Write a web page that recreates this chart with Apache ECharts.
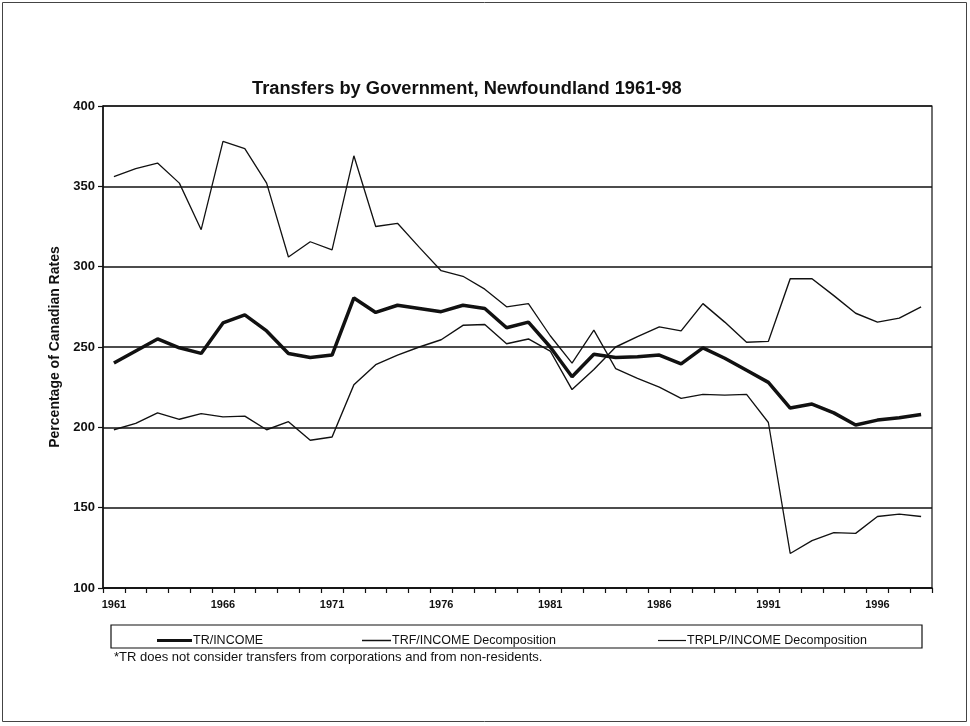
<!DOCTYPE html>
<html>
<head>
<meta charset="utf-8">
<script src="https://cdn.jsdelivr.net/npm/echarts@6/dist/echarts.min.js"></script>
<style>
html,body{margin:0;padding:0;background:#fff;}
#chart{width:970px;height:726px;}
</style>
</head>
<body>
<div id="chart"></div>
<script>
var years = [];
for (var y = 1961; y <= 1998; y++) years.push(String(y));

var trIncome = [240, 247.5, 255, 249.5, 246, 265, 270, 260, 246, 243.5, 245, 280.5, 271.5, 276, 274, 272, 276, 274, 262, 265.5, 250, 231.5, 245.5, 243.5, 244, 245, 239.5, 249.5, 243, 235.5, 228, 212, 214.5, 209, 201.5, 204.5, 206, 208];
var trfIncome = [198.5, 202.5, 209, 205, 208.5, 206.5, 207, 198.5, 203.5, 192, 194, 226.5, 239, 245, 250, 254.5, 263.5, 264, 252, 255, 247.5, 223.5, 236, 250, 256.5, 262.5, 260, 277, 265.5, 253, 253.5, 292.5, 292.5, 282, 271, 265.5, 268, 275];
var trplpIncome = [356, 361, 364.5, 352, 323, 378, 373.5, 352, 306, 315.5, 310.5, 369, 325, 327, 312, 297.5, 294, 286, 275, 277, 257, 240, 260.5, 236.5, 230.5, 225, 218, 220.5, 220, 220.5, 203, 121.5, 129.5, 134.5, 134, 144.5, 146, 144.5];

var seriesNames = ['TR/INCOME', 'TRF/INCOME Decomposition', 'TRPLP/INCOME Decomposition'];
var titleText = 'Transfers by Government, Newfoundland 1961-98';
var yAxisName = 'Percentage of Canadian Rates';
var footnote = '*TR does not consider transfers from corporations and from non-residents.';

var FONT = 'Liberation Sans, Arial, sans-serif';
var chart = echarts.init(document.getElementById('chart'), null, {renderer: 'canvas'});

function legendAt(left, name, w, h) {
  return {
    left: left, top: 629,
    itemWidth: w, itemHeight: h, itemGap: 4,
    icon: 'rect',
    data: [name],
    textStyle: {fontFamily: FONT, fontSize: 12.5, color: '#111', padding: [0, 0, 0, -4]},
    selectedMode: false
  };
}

chart.setOption({
  animation: false,
  backgroundColor: '#fff',
  title: {
    text: titleText,
    left: 247,
    top: 75,
    textStyle: {fontFamily: FONT, fontSize: 18.3, fontWeight: 'bold', color: '#111'}
  },
  grid: {
    left: 103, right: 38, top: 106, bottom: 138,
    show: true, borderColor: '#111', borderWidth: 1.2, backgroundColor: 'transparent'
  },
  legend: [
    legendAt(152, seriesNames[0], 35, 3),
    legendAt(357, seriesNames[1], 29, 1.5),
    legendAt(653, seriesNames[2], 28, 1.2)
  ],
  xAxis: {
    type: 'category',
    data: years,
    boundaryGap: true,
    axisLine: {lineStyle: {color: '#111', width: 1.5}},
    axisTick: {show: true, interval: 0, length: 5, lineStyle: {color: '#111', width: 1.2}},
    axisLabel: {interval: 4, margin: 11, fontFamily: FONT, fontSize: 11, fontWeight: 'bold', color: '#111'},
    splitLine: {show: false}
  },
  yAxis: {
    type: 'value',
    min: 100, max: 400, interval: 50,
    name: yAxisName,
    nameLocation: 'middle',
    nameGap: 39,
    nameRotate: 90,
    nameTextStyle: {fontFamily: FONT, fontSize: 14, fontWeight: 'bold', color: '#111'},
    axisLine: {show: true, lineStyle: {color: '#111', width: 1.5}},
    axisTick: {show: true, length: 5, lineStyle: {color: '#111', width: 1.2}},
    axisLabel: {margin: 8, fontFamily: FONT, fontSize: 13, fontWeight: 'bold', color: '#111'},
    splitLine: {show: true, lineStyle: {color: '#111', width: 1.5}}
  },
  series: [
    {name: seriesNames[0], type: 'line', data: trIncome, showSymbol: false, symbol: 'none',
     lineStyle: {color: '#111', width: 3.5}, itemStyle: {color: '#111'}, z: 5},
    {name: seriesNames[1], type: 'line', data: trfIncome, showSymbol: false, symbol: 'none',
     lineStyle: {color: '#111', width: 1.4}, itemStyle: {color: '#111'}, z: 4},
    {name: seriesNames[2], type: 'line', data: trplpIncome, showSymbol: false, symbol: 'none',
     lineStyle: {color: '#111', width: 1.3}, itemStyle: {color: '#111'}, z: 4}
  ],
  graphic: [
    {type: 'rect', shape: {x: 2.5, y: 2.5, width: 964, height: 719},
     style: {fill: 'none', stroke: '#444', lineWidth: 1}, silent: true},
    {type: 'rect', shape: {x: 111, y: 625, width: 811, height: 23},
     style: {fill: 'none', stroke: '#111', lineWidth: 1.2}, silent: true},
    {type: 'text', left: 114, top: 651,
     style: {text: footnote, fontFamily: FONT, fontSize: 13, fill: '#111'}, silent: true}
  ]
});
</script>
</body>
</html>
